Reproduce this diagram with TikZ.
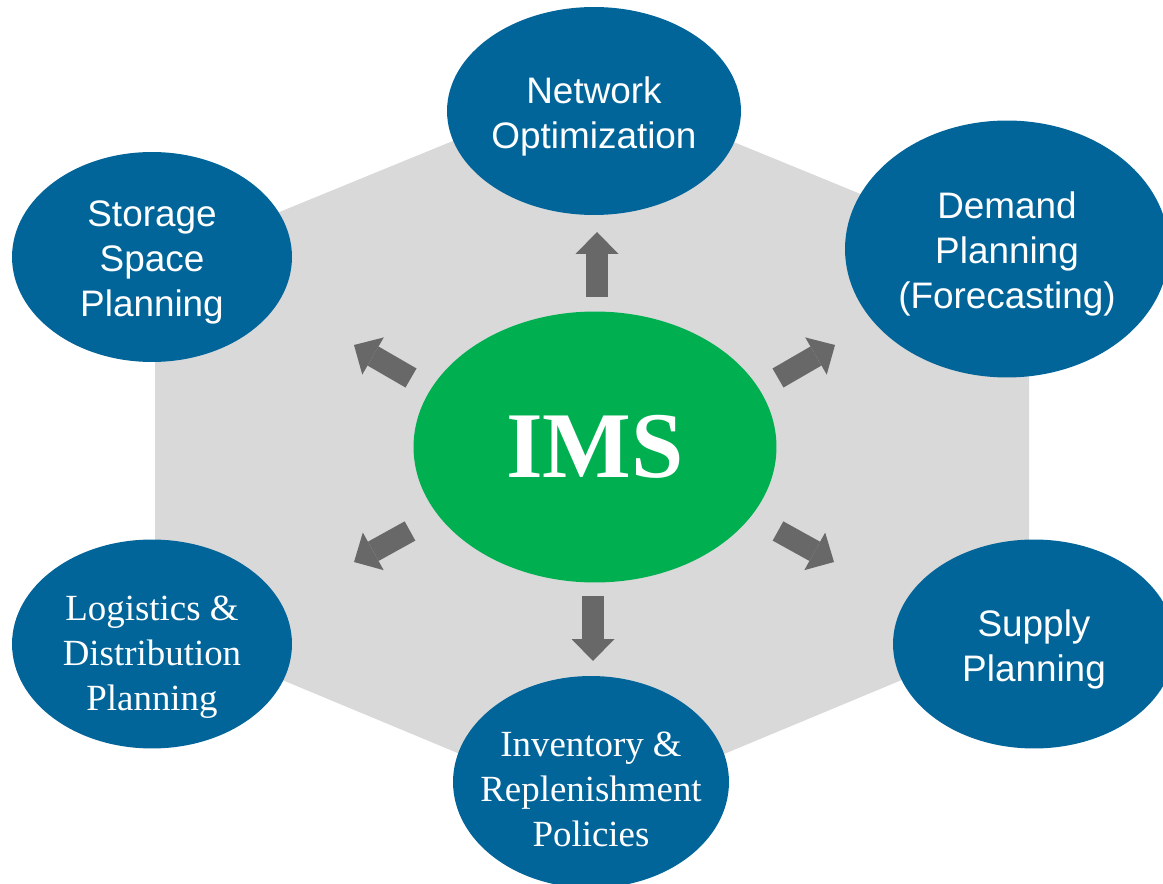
\documentclass[tikz,border=0pt]{standalone}
\usepackage{fontspec}
\setmainfont{Liberation Serif}
\setsansfont{Liberation Sans}
\usetikzlibrary{shapes.geometric,arrows.meta}

\definecolor{imsblue}{RGB}{2,101,154}
\definecolor{imsgreen}{RGB}{0,176,80}
\definecolor{hexgray}{RGB}{217,217,217}
\definecolor{arrowgray}{RGB}{104,104,104}

\begin{document}
\begin{tikzpicture}[x=0.02cm, y=-0.02cm,
  topic/.style={ellipse, fill=imsblue, inner sep=0pt},
  sanslabel/.style={text=white, align=center, inner sep=0pt,
    font=\sffamily\fontsize{21}{25.6}\selectfont},
  seriflabel/.style={text=white, align=center, inner sep=0pt,
    font=\rmfamily\fontsize{21}{25.6}\selectfont},
  core/.style={ellipse, fill=imsgreen, text=white, inner sep=0pt,
    minimum width=7.26cm, minimum height=5.42cm,
    font=\rmfamily\bfseries\fontsize{53.5}{60}\selectfont},
  outarrow/.style={draw=arrowgray, line width=0.44cm,
    -{Triangle[length=0.44cm, width=0.86cm, line width=0pt]}}]

\path[use as bounding box, clip] (0,0) rectangle (1163,884);

%% background hexagon
\fill[hexgray] (592,84) -- (1029,263) -- (1029,627) -- (592,809)
  -- (155,627) -- (155,263) -- cycle;

%% centre
\node[core] (ims) at (595,447) {IMS};

%% planning areas
\node[topic, minimum width=5.88cm, minimum height=4.16cm] (network) at (594,111) {};
\node[topic, minimum width=6.48cm, minimum height=5.14cm] (demand) at (1007,249) {};
\node[topic, minimum width=5.6cm, minimum height=4.2cm] (storage) at (152,257) {};
\node[topic, minimum width=5.64cm, minimum height=4.18cm] (supply) at (1034,644) {};
\node[topic, minimum width=5.6cm, minimum height=4.18cm] (logistics) at (152,644) {};
\node[topic, minimum width=5.52cm, minimum height=4.24cm] (inventory) at (591,782) {};

\node[sanslabel] (network_txt) at (594,116) {Network\\Optimization};
\node[sanslabel] (demand_txt) at (1007,254) {Demand\\Planning\\(Forecasting)};
\node[sanslabel] (storage_txt) at (152,262) {Storage\\Space\\Planning};
\node[sanslabel] (supply_txt) at (1034,649) {Supply\\Planning};
\node[seriflabel] (logistics_txt) at (152,657) {Logistics \&\\Distribution\\Planning};
\node[seriflabel] (inventory_txt) at (591,789) {Inventory \&\\Replenishment\\Policies};

%% arrows out of IMS
\coordinate (up_tail) at (597,297);
\coordinate (up_tip) at (597,232);
\coordinate (dn_tail) at (593,596);
\coordinate (dn_tip) at (593,661);
\coordinate (ur_tail) at (778,378);
\coordinate (ur_tip) at (835,345);
\coordinate (ul_tail) at (411,378);
\coordinate (ul_tip) at (354,345);
\coordinate (ll_tail) at (410,531);
\coordinate (ll_tip) at (354,562);
\coordinate (lr_tail) at (778,531);
\coordinate (lr_tip) at (834,562);

\draw[outarrow] (up_tail) -- (up_tip);
\draw[outarrow] (dn_tail) -- (dn_tip);
\draw[outarrow] (ur_tail) -- (ur_tip);
\draw[outarrow] (ul_tail) -- (ul_tip);
\draw[outarrow] (ll_tail) -- (ll_tip);
\draw[outarrow] (lr_tail) -- (lr_tip);

\end{tikzpicture}
\end{document}
